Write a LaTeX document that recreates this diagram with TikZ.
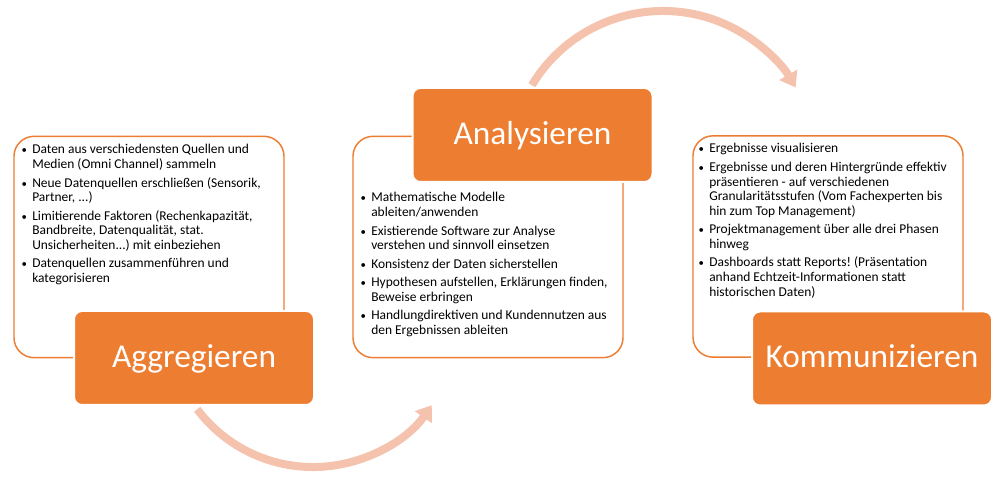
\documentclass[tikz,border=0pt]{standalone}
\usepackage{fontspec}
\setmainfont{Carlito}
\usetikzlibrary{arrows.meta}
\definecolor{accent}{HTML}{ED7D31}
\definecolor{flowcol}{HTML}{F5C2AD}
\newcommand{\bul}{\makebox[12pt]{\scalebox{0.8}{\textbullet}}}
\frenchspacing
\begin{document}
\begin{tikzpicture}[x=0.75pt,y=0.75pt,
  outlinebox/.style={draw=accent, line width=1.1pt, fill=white, rounded corners=15pt,
    minimum width=202.5pt, minimum height=166pt, inner sep=0pt},
  phasebox/.style={draw=white, line width=1.5pt, fill=accent, rounded corners=6pt,
    minimum width=180pt, minimum height=70.5pt, inner sep=0pt, text=white,
    font=\fontsize{25pt}{30pt}\selectfont, text height=16pt, text depth=1.8pt},
  bullets/.style={anchor=base west, inner sep=0pt, align=left,
    font=\fontsize{10.1pt}{11pt}\selectfont},
  flow/.style={draw=flowcol, line width=6pt, -{Triangle[length=11pt,width=15pt]}}]
\useasboundingbox (0,0) rectangle (1000,481);
% cycle arrows
\coordinate (bstart) at (197.2,71.7);
\coordinate (tstart) at (531.9,395.8);
\draw[flow] (bstart) arc[start angle=217, end angle=325, radius=108.75pt];
\draw[flow] (tstart) arc[start angle=149, end angle=30, radius=114.75pt];
% outline boxes
\node[outlinebox] (leftbox) at (149,234) {};
\node[outlinebox] (midbox) at (488,234) {};
\node[outlinebox] (rightbox) at (828,234.5) {};
% phase boxes
\node[phasebox] (agg) at (194,123) {Aggregieren};
\node[phasebox] (ana) at (532.5,346) {Analysieren};
\node[phasebox] (kom) at (872,122.5) {Kommunizieren};
% texts
\node[bullets] (aggtext) at (16,327) {%
\begin{tabular}[t]{@{}l@{}l@{}}
\bul & Daten aus verschiedensten Quellen und\\
 & Medien (Omni Channel) sammeln\\[2.8pt]
\bul & Neue Datenquellen erschließen (Sensorik,\\
 & Partner, ...)\\[2.8pt]
\bul & Limitierende Faktoren (Rechenkapazität,\\
 & Bandbreite, Datenqualität, stat.\\
 & Unsicherheiten...) mit einbeziehen\\[2.8pt]
\bul & Datenquellen zusammenführen und\\
 & kategorisieren
\end{tabular}};
\node[bullets] (anatext) at (355,279) {%
\begin{tabular}[t]{@{}l@{}l@{}}
\bul & Mathematische Modelle\\
 & ableiten/anwenden\\[2.8pt]
\bul & Existierende Software zur Analyse\\
 & verstehen und sinnvoll einsetzen\\[2.8pt]
\bul & Konsistenz der Daten sicherstellen\\[2.8pt]
\bul & Hypothesen aufstellen, Erklärungen finden,\\
 & Beweise erbringen\\[2.8pt]
\bul & Handlungdirektiven und Kundennutzen aus\\
 & den Ergebnissen ableiten
\end{tabular}};
\node[bullets] (komtext) at (693,328) {%
\begin{tabular}[t]{@{}l@{}l@{}}
\bul & Ergebnisse visualisieren\\[2.8pt]
\bul & Ergebnisse und deren Hintergründe effektiv\\
 & präsentieren - auf verschiedenen\\
 & Granularitätsstufen (Vom Fachexperten bis\\
 & hin zum Top Management)\\[2.8pt]
\bul & Projektmanagement über alle drei Phasen\\
 & hinweg\\[2.8pt]
\bul & Dashboards statt Reports! (Präsentation\\
 & anhand Echtzeit-Informationen statt\\
 & historischen Daten)
\end{tabular}};
\end{tikzpicture}
\end{document}
